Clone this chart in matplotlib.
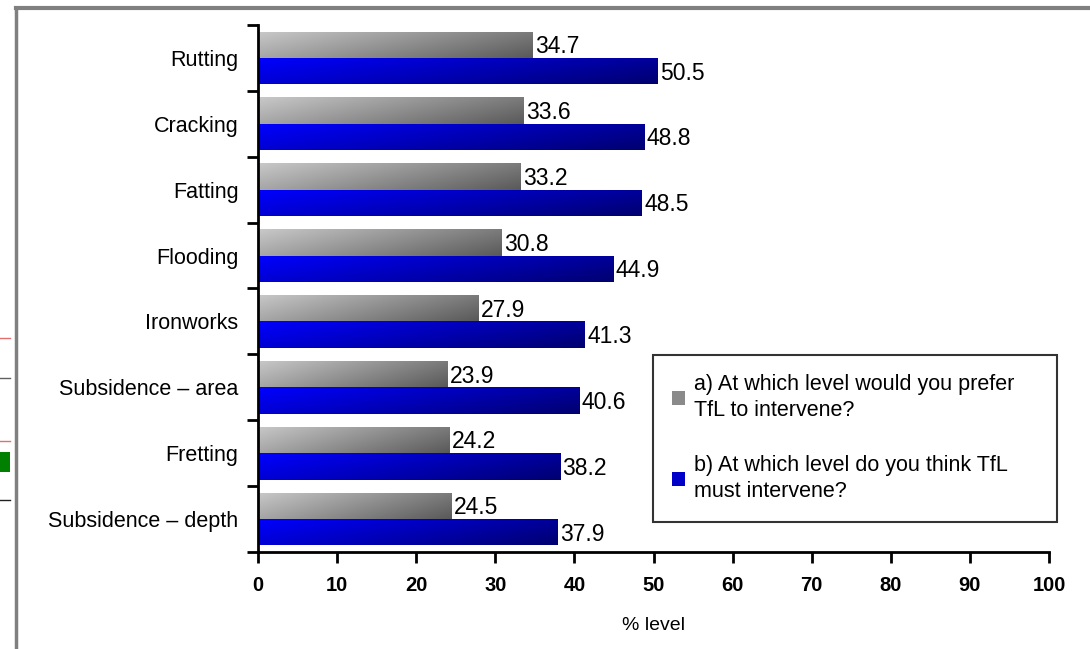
import matplotlib.pyplot as plt
import numpy as np
from matplotlib.colors import LinearSegmentedColormap
from matplotlib.lines import Line2D
from matplotlib.patches import Rectangle

categories = ['Rutting', 'Cracking', 'Fatting', 'Flooding', 'Ironworks',
              'Subsidence – area', 'Fretting', 'Subsidence – depth']
prefer = [34.7, 33.6, 33.2, 30.8, 27.9, 23.9, 24.2, 24.5]
must = [50.5, 48.8, 48.5, 44.9, 41.3, 40.6, 38.2, 37.9]
legend_labels = ['a) At which level would you prefer\nTfL to intervene?',
                 'b) At which level do you think TfL\nmust intervene?']
xticks = [0, 10, 20, 30, 40, 50, 60, 70, 80, 90, 100]

plt.rcParams['font.family'] = ['Liberation Sans', 'DejaVu Sans']

fig = plt.figure(figsize=(10.9, 6.49), dpi=100)
ax = fig.add_axes([0.2367, 0.1495, 0.7257, 0.812])

gray_cmap = LinearSegmentedColormap.from_list('g', ['#c8c8c8', '#5a5a5a'])
blue_cmap = LinearSegmentedColormap.from_list('b', ['#0000ff', '#000070'])

# simple gradient: left->right plus a bit top->bottom
grad = np.linspace(0, 1, 256)[None, :] * 0.7 + np.linspace(0, 1, 16)[:, None] * 0.3

y = np.arange(len(categories))
h = 0.4


def grad_bars(vals, offset, cmap):
    bars = ax.barh(y + offset, vals, height=h, color='none', edgecolor='none')
    for b in bars:
        x0, y0 = b.get_x(), b.get_y()
        w, hh = b.get_width(), b.get_height()
        im = ax.imshow(grad, cmap=cmap, aspect='auto', interpolation='bilinear',
                       extent=[x0, x0 + w, y0 + hh, y0], zorder=2)
        im.set_clip_path(b)
    return bars


grad_bars(prefer, -h / 2, gray_cmap)
grad_bars(must, h / 2, blue_cmap)

for i in range(len(categories)):
    ax.text(prefer[i] + 0.3, y[i] - h / 2 + 0.03, f'{prefer[i]:.1f}', va='center',
            ha='left', fontsize=16.5, zorder=3)
    ax.text(must[i] + 0.3, y[i] + h / 2 + 0.03, f'{must[i]:.1f}', va='center',
            ha='left', fontsize=16.5, zorder=3)

ax.set_xlim(0, 100)
ax.set_ylim(len(categories) - 0.5, -0.5)
ax.set_xticks(xticks)
ax.set_xticklabels([str(t) for t in xticks], fontsize=14.5, fontweight='bold')
ax.set_yticks(np.arange(len(categories) + 1) - 0.5, minor=False)
ax.set_yticklabels([])
ax.set_yticks(y, minor=True)
ax.set_yticklabels(categories, minor=True, fontsize=15.5)
ax.tick_params(axis='y', which='minor', length=0, pad=14)
ax.tick_params(axis='y', which='major', length=8, width=2)
ax.tick_params(axis='x', length=8, width=2, pad=9)
ax.spines['top'].set_visible(False)
ax.spines['right'].set_visible(False)
ax.spines['left'].set_linewidth(2)
ax.spines['bottom'].set_linewidth(2)
ax.set_xlabel('% level', fontsize=14, labelpad=16)

handles = [Rectangle((0, 0), 1, 1, facecolor='#8a8a8a'),
           Rectangle((0, 0), 1, 1, facecolor='#0000c8')]
leg = fig.legend(handles, legend_labels, loc='upper left',
                 bbox_to_anchor=(0.599, 0.2034, 0.371, 0.25), mode='expand',
                 fontsize=15.5, frameon=True, fancybox=False, handlelength=0.6,
                 handleheight=0.6, handletextpad=0.4, labelspacing=1.6,
                 borderpad=0.9, borderaxespad=0)
for t in leg.get_texts():
    t.set_linespacing(1.3)
leg.get_frame().set_edgecolor('black')
leg.get_frame().set_linewidth(1.5)

# outer frame of the original slide
fig.add_artist(Line2D([16 / 1090, 1], [1 - 8 / 649] * 2, color='#808080', lw=3))
fig.add_artist(Line2D([16 / 1090] * 2, [0, 1 - 8 / 649], color='#808080', lw=2.5))
# stray fragments at the left edge
for yy, c in [(338, '#e07070'), (378, '#606060'), (441, '#e07070'), (500, '#202020')]:
    fig.add_artist(Line2D([0, 10 / 1090], [1 - yy / 649] * 2, color=c, lw=1))
fig.add_artist(Rectangle((0, 1 - 472 / 649), 10 / 1090, 20 / 649,
                         facecolor='#008000', edgecolor='none'))

fig.savefig('out.png', dpi=100)
